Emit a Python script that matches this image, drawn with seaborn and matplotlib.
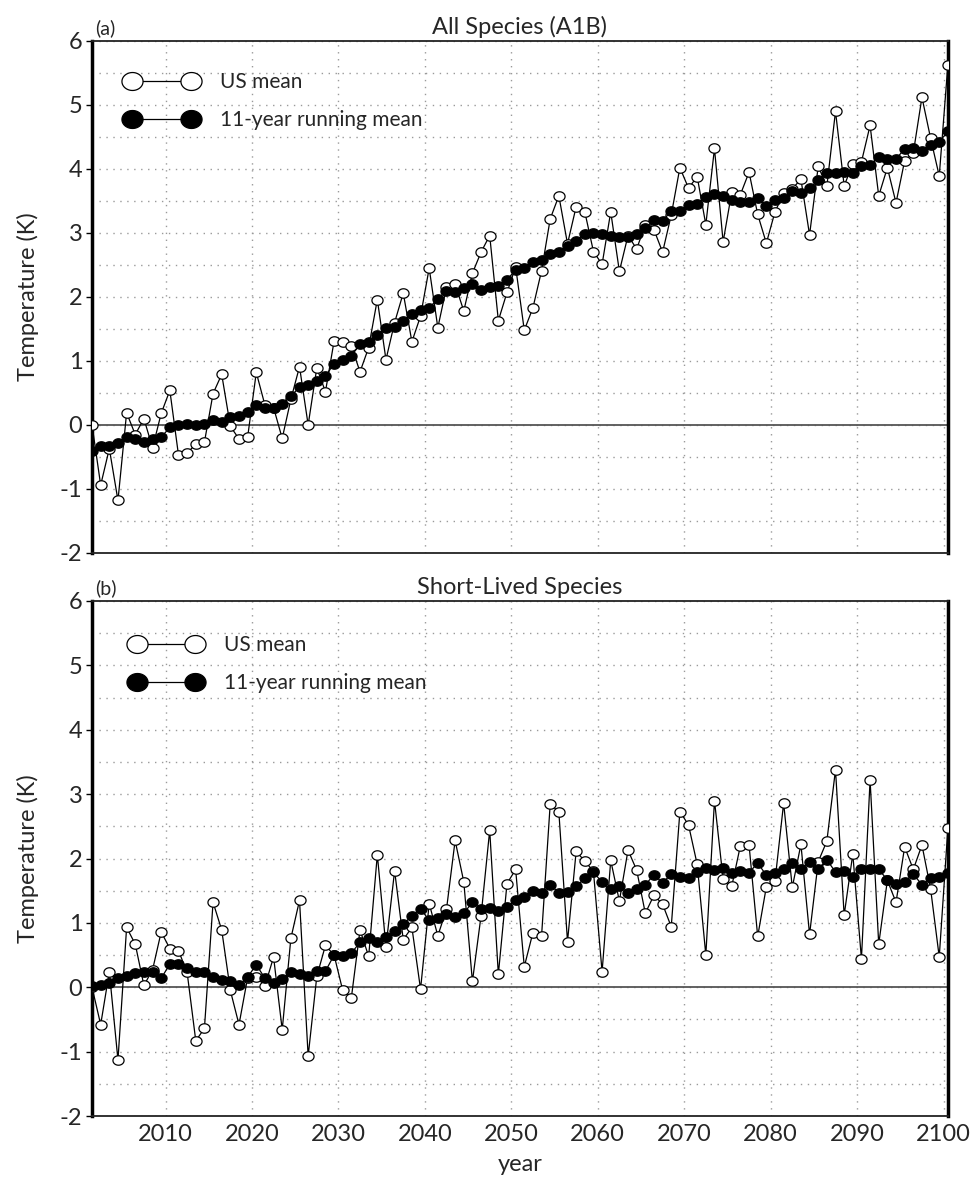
import numpy as np
import matplotlib
matplotlib.use("Agg")
import matplotlib.pyplot as plt
import seaborn as sns
from matplotlib.path import Path
from matplotlib.ticker import MultipleLocator

years = list(range(2001, 2101))

a_us = [0.00, -0.94, -0.37, -1.18, 0.19, -0.15, 0.10, -0.36, 0.18, 0.54,
        -0.47, -0.44, -0.30, -0.27, 0.49, 0.79, -0.02, -0.22, -0.19, 0.82,
        0.31, 0.27, -0.21, 0.40, 0.91, 0.00, 0.89, 0.52, 1.31, 1.30,
        1.23, 0.83, 1.21, 1.96, 1.02, 1.60, 2.06, 1.30, 1.70, 2.45,
        1.52, 2.15, 2.20, 1.78, 2.37, 2.70, 2.96, 1.63, 2.07, 2.47,
        1.48, 1.83, 2.41, 3.22, 3.58, 2.83, 3.41, 3.33, 2.71, 2.51,
        3.33, 2.40, 2.96, 2.75, 3.13, 3.05, 2.70, 3.28, 4.02, 3.70,
        3.88, 3.13, 4.32, 2.86, 3.64, 3.60, 3.95, 3.29, 2.84, 3.33,
        3.62, 3.69, 3.84, 2.97, 4.04, 3.73, 4.90, 3.74, 4.07, 4.11,
        4.68, 3.58, 4.02, 3.47, 4.13, 4.25, 5.12, 4.48, 3.89, 5.63]

a_rm = [-0.41, -0.33, -0.33, -0.29, -0.19, -0.22, -0.27, -0.22, -0.19, -0.04,
        0.00, 0.02, 0.00, 0.01, 0.07, 0.05, 0.12, 0.14, 0.20, 0.31,
        0.27, 0.27, 0.32, 0.45, 0.59, 0.63, 0.68, 0.76, 0.96, 1.01,
        1.08, 1.26, 1.30, 1.40, 1.51, 1.53, 1.62, 1.74, 1.79, 1.83,
        1.97, 2.10, 2.08, 2.14, 2.20, 2.11, 2.15, 2.17, 2.27, 2.42,
        2.46, 2.54, 2.57, 2.67, 2.71, 2.79, 2.87, 2.98, 3.00, 2.99,
        2.95, 2.94, 2.93, 2.99, 3.08, 3.20, 3.18, 3.35, 3.35, 3.43,
        3.46, 3.56, 3.61, 3.58, 3.51, 3.49, 3.48, 3.55, 3.42, 3.52,
        3.54, 3.65, 3.63, 3.70, 3.82, 3.93, 3.94, 3.96, 3.93, 4.05,
        4.06, 4.19, 4.15, 4.16, 4.31, 4.33, 4.28, 4.38, 4.42, 4.59]

b_us = [0.00, -0.58, 0.24, -1.13, 0.93, 0.67, 0.03, 0.27, 0.86, 0.60,
        0.57, 0.23, -0.83, -0.64, 1.32, 0.89, -0.05, -0.58, 0.15, 0.16,
        0.02, 0.47, -0.66, 0.76, 1.35, -1.07, 0.17, 0.65, 0.50, -0.05,
        -0.16, 0.89, 0.48, 2.06, 0.63, 1.81, 0.74, 0.93, -0.03, 1.30,
        0.80, 1.21, 2.28, 1.64, 0.09, 1.11, 2.44, 0.20, 1.61, 1.83,
        0.32, 0.85, 0.80, 2.85, 2.72, 0.71, 2.11, 1.96, 1.80, 0.24,
        1.97, 1.34, 2.13, 1.82, 1.15, 1.43, 1.29, 0.94, 2.73, 2.52,
        1.91, 0.50, 2.90, 1.68, 1.57, 2.20, 2.21, 0.79, 1.56, 1.65,
        2.86, 1.55, 2.22, 0.82, 1.95, 2.27, 3.38, 1.12, 2.07, 0.44,
        3.22, 0.67, 1.66, 1.32, 2.18, 1.83, 2.21, 1.53, 0.47, 2.47]

b_rm = [0.02, 0.04, 0.07, 0.14, 0.18, 0.22, 0.24, 0.23, 0.14, 0.36,
        0.36, 0.30, 0.24, 0.23, 0.16, 0.11, 0.10, 0.03, 0.16, 0.35,
        0.14, 0.07, 0.13, 0.23, 0.21, 0.17, 0.25, 0.25, 0.50, 0.49,
        0.53, 0.70, 0.77, 0.71, 0.78, 0.87, 0.98, 1.11, 1.22, 1.04,
        1.08, 1.14, 1.09, 1.15, 1.32, 1.22, 1.23, 1.19, 1.25, 1.35,
        1.40, 1.50, 1.46, 1.59, 1.47, 1.48, 1.57, 1.69, 1.79, 1.63,
        1.52, 1.57, 1.46, 1.52, 1.59, 1.75, 1.62, 1.76, 1.71, 1.69,
        1.79, 1.86, 1.82, 1.86, 1.78, 1.80, 1.78, 1.93, 1.74, 1.77,
        1.83, 1.93, 1.84, 1.95, 1.84, 1.98, 1.79, 1.80, 1.72, 1.84,
        1.84, 1.83, 1.67, 1.60, 1.64, 1.76, 1.59, 1.70, 1.71, 1.78]

titles = ["All Species (A1B)", "Short-Lived Species"]
panel_tags = ["(a)", "(b)"]
series_labels = ["US mean", "11-year running mean"]
xticks = list(range(2010, 2101, 10))
yticks = list(range(-2, 7))

sns.set_theme(style="white")
plt.rcParams["font.family"] = ["Lato", "DejaVu Sans"]
plt.rcParams["axes.unicode_minus"] = False

# slightly elliptical marker like the reference
th = np.linspace(0, 2 * np.pi, 60)
ellipse = Path(np.column_stack([np.cos(th), 0.85 * np.sin(th)]), closed=True)

fig = plt.figure(figsize=(9.77, 11.84), dpi=100)
axes = [fig.add_axes([0.0942, 0.533, 0.876, 0.4324]),
        fig.add_axes([0.0942, 0.0574, 0.876, 0.4350])]

# mid-year positions
xpos = np.array(years) + 0.5
data = [(a_us, a_rm), (b_us, b_rm)]
legend_anchor = [(0.03, 0.955), (0.035, 0.95)]

for k, ax in enumerate(axes):
    us, rm = data[k]
    sns.lineplot(x=xpos, y=us, ax=ax, color="black", lw=0.9, marker=ellipse,
                 markersize=8, markerfacecolor="white", markeredgecolor="black",
                 markeredgewidth=0.9, label=series_labels[0], zorder=3,
                 estimator=None, sort=False)
    sns.lineplot(x=xpos, y=rm, ax=ax, color="black", lw=0.9, marker=ellipse,
                 markersize=8, markerfacecolor="black", markeredgecolor="black",
                 markeredgewidth=0.9, label=series_labels[1], zorder=4,
                 estimator=None, sort=False)
    ax.axhline(0, color="#555555", lw=1.3, zorder=2)
    ax.set_xlim(2001.5, 2100.5)
    ax.set_ylim(-2, 6)
    ax.set_xticks(xticks)
    ax.set_yticks(yticks)
    ax.yaxis.set_minor_locator(MultipleLocator(0.5))
    ax.grid(True, which="major", axis="both", linestyle=(0, (1, 4)),
            color="#9a9a9a", lw=1.0)
    ax.grid(True, which="minor", axis="y", linestyle=(0, (1, 4)),
            color="#9a9a9a", lw=1.0)
    ax.set_axisbelow(True)
    ax.tick_params(axis="y", which="major", direction="out", length=4,
                   width=1, color="black", labelsize=17, pad=3, left=True)
    ax.tick_params(axis="y", which="minor", direction="in", length=0)
    ax.tick_params(axis="x", which="major", length=0, labelsize=17, pad=6)
    if k == 0:
        ax.set_xticklabels([])
    for s in ["left", "right"]:
        ax.spines[s].set_linewidth(2.5)
        ax.spines[s].set_color("black")
    for s in ["top", "bottom"]:
        ax.spines[s].set_linewidth(1.3)
        ax.spines[s].set_color("#222222")
    ax.set_ylabel("Temperature (K)", fontsize=17, labelpad=15)
    ax.set_xlabel("")
    ax.set_title(titles[k], fontsize=17, pad=5)
    ax.text(0.004, 1.008, panel_tags[k], transform=ax.transAxes, fontsize=14,
            ha="left", va="bottom")
    ax.legend(loc="upper left", bbox_to_anchor=legend_anchor[k], frameon=False,
              fontsize=15, handlelength=3.4, handletextpad=1.1,
              labelspacing=0.85, markerscale=1.9, borderaxespad=0,
              numpoints=2)

axes[1].set_xlabel("year", fontsize=17, labelpad=6)

fig.savefig("out.png", dpi=100)
